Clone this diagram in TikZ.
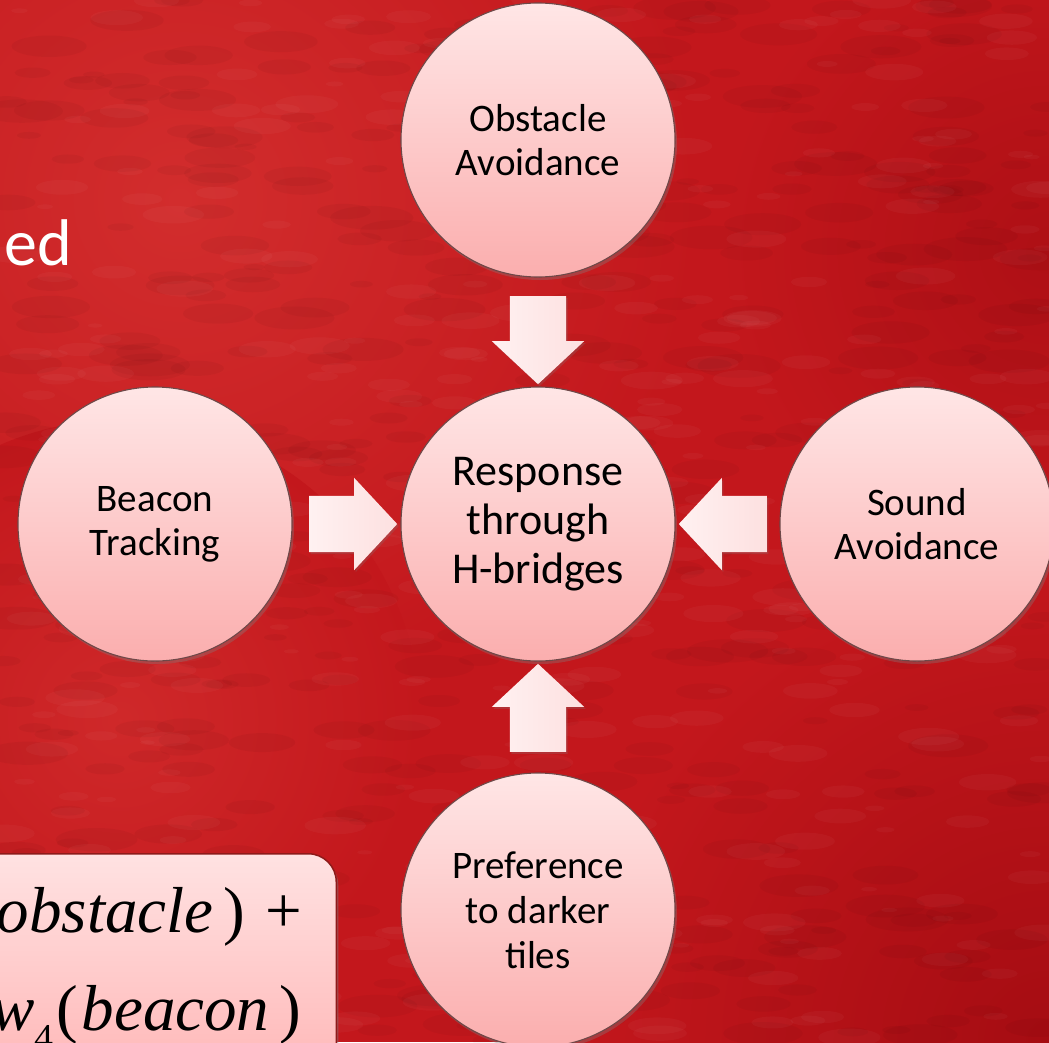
\documentclass[tikz,border=0pt]{standalone}
\usepackage{fontspec}
\setmainfont{Carlito}
\newfontfamily\timesf{Liberation Serif}
\usetikzlibrary{shapes.arrows,shadows,calc}
\definecolor{bgred}{HTML}{C3171C}
\definecolor{bglight}{HTML}{D22D2D}
\definecolor{bgdark}{HTML}{A50C12}
\definecolor{cTop}{HTML}{FFE6E6}
\definecolor{cBot}{HTML}{FBAEAE}
\definecolor{cEdge}{HTML}{6E4848}
\definecolor{aLight}{HTML}{FFF1F1}
\definecolor{aPink}{HTML}{FDE0E0}
\definecolor{bxTop}{HTML}{FFE2E2}
\definecolor{bxBot}{HTML}{FFB4B4}
\definecolor{bxEdge}{HTML}{8E1A1A}
\tikzset{
  bubble/.style={circle, minimum size=274pt, inner sep=0pt, align=center,
    top color=cTop, bottom color=cBot, draw=cEdge, line width=1.1pt,
    font=\fontsize{39}{44}\selectfont, text=black,
    drop shadow={shadow xshift=2pt, shadow yshift=-3pt, opacity=0.35}},
  bigbubble/.style={bubble, font=\fontsize{44}{49}\selectfont},
  blockarrow/.style={single arrow, minimum height=88pt, inner xsep=0pt,
    inner ysep=28pt, single arrow head extend=18pt, single arrow tip angle=94,
    left color=aLight, right color=aPink, draw=none,
    drop shadow={shadow xshift=1.5pt, shadow yshift=-2pt, opacity=0.25}},
  formbox/.style={rounded corners=28pt, top color=bxTop, bottom color=bxBot,
    draw=bxEdge, line width=1.5pt,
    drop shadow={shadow xshift=2pt, shadow yshift=-3pt, opacity=0.45}},
  formula/.style={font=\timesf\fontsize{65}{70}\selectfont, text=black, inner sep=0pt}
}
\begin{document}
\begin{tikzpicture}[x=1pt,y=-1pt]
\useasboundingbox (0,0) rectangle (1049,1042);
\clip (0,0) rectangle (1049,1042);
% background
\fill[bgred] (0,0) rectangle (1049,1042);
\shade[inner color=bglight, outer color=bgred] (180,200) circle (520);
\shade[inner color=bglight!80!bgred, outer color=bgred] (120,720) circle (300);
\shade[inner color=bgdark, outer color=bgred] (1049,1042) circle (480);
\shade[inner color=bgdark!70!bgred, outer color=bgred] (1049,250) circle (330);
\pgfmathsetseed{4242}
\foreach \i in {1,...,500}{
  \pgfmathsetmacro\xx{rnd*1049}
  \pgfmathsetmacro\yy{rnd*1042}
  \pgfmathsetmacro\rr{3+rnd*9}
  \fill[black, opacity=0.035] (\xx,\yy) ellipse ({\rr*3.5} and \rr);
}
\foreach \i in {1,...,400}{
  \pgfmathsetmacro\xx{rnd*1049}
  \pgfmathsetmacro\yy{rnd*1042}
  \pgfmathsetmacro\rr{2+rnd*7}
  \fill[white, opacity=0.03] (\xx,\yy) ellipse ({\rr*3.5} and \rr);
}
% partial title text
\node[anchor=base west, inner sep=0pt, text=white, font=\fontsize{66}{70}\selectfont] (ed) at (4,265) {ed};
% circles
\node[bigbubble] (resp) at (538,524) {Response\\through\\H-bridges};
\node[bubble] (obst) at (538,140) {Obstacle\\Avoidance};
\node[bubble] (beac) at (155,524) {Beacon\\Tracking};
\node[bubble] (sound) at (917,524) {Sound\\Avoidance};
\node[bubble, font=\fontsize{39}{45}\selectfont] (pref) at (538,910) {Preference\\to darker\\tiles};
% block arrows
\node[blockarrow, rotate=-90, anchor=tip] (a1) at ($(resp.north)+(0,-2)$) {};
\node[blockarrow, anchor=tip] (a2) at ($(resp.west)+(-3,0)$) {};
\node[blockarrow, rotate=180, anchor=tip] (a3) at ($(resp.east)+(3,0)$) {};
\node[blockarrow, rotate=90, anchor=tip] (a4) at ($(resp.south)+(0,2)$) {};
% formula box
\node[formbox, anchor=north east, minimum width=400pt, minimum height=240pt] (fbox) at (337,853) {};
\node[formula, anchor=base east] (f1) at (302,932) {{\itshape obstacle}\kern0.16em)\kern0.3em+};
\node[formula, anchor=base east] (f2) at (301,1030) {{\itshape w}\raisebox{-0.32em}{\fontsize{38}{40}\selectfont 4}\kern0.05em(\kern0.05em{\itshape beacon}\kern0.15em)};
\end{tikzpicture}
\end{document}
